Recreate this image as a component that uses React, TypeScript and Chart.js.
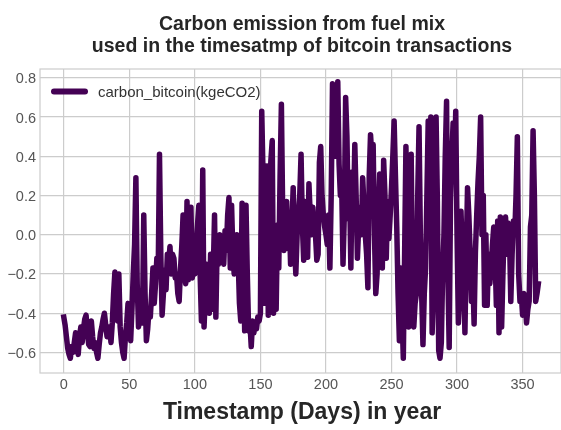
import React, { useEffect, useRef } from 'react';
import { Chart, registerables } from 'chart.js';

Chart.register(...registerables);

const TITLE_LINES = ['Carbon emission from fuel mix', 'used in the timesatmp of bitcoin transactions'];
const X_LABEL = 'Timestamp (Days) in year';
const SERIES_LABEL = 'carbon_bitcoin(kgeCO2)';
const X_TICKS = [0, 50, 100, 150, 200, 250, 300, 350];
const Y_TICKS = [-0.6, -0.4, -0.2, 0.0, 0.2, 0.4, 0.6, 0.8];

// carbon emission per day (day index = position)
const CARBON = [
  -0.42, -0.46, -0.52, -0.58, -0.61, -0.63, -0.57, -0.60, -0.55, -0.50,
  -0.58, -0.61, -0.52, -0.47, -0.55, -0.48, -0.43, -0.41, -0.50, -0.56,
  -0.57, -0.44, -0.52, -0.58, -0.55, -0.60, -0.63, -0.56, -0.50, -0.47,
  -0.43, -0.40, -0.46, -0.52, -0.48, -0.47, -0.55, -0.45, -0.30, -0.19,
  -0.38, -0.44, -0.20, -0.47, -0.55, -0.60, -0.63, -0.52, -0.45, -0.35,
  -0.43, -0.54, -0.38, -0.20, -0.05, 0.29, -0.25, -0.47, -0.42, -0.30,
  -0.45, 0.10, -0.30, -0.54, -0.48, -0.38, -0.42, -0.30, -0.17, -0.35,
  -0.25, -0.12, -0.20, 0.41, -0.10, -0.41, -0.30, -0.18, -0.28, -0.10,
  -0.15, -0.06, -0.20, -0.10, -0.12, -0.22, -0.20, -0.30, -0.34, -0.18,
  -0.06, 0.10, -0.20, -0.25, 0.17, -0.23, -0.10, 0.14, -0.22, -0.15,
  -0.20, -0.05, 0.05, 0.15, -0.20, -0.44, 0.33, -0.47, -0.30, -0.15,
  -0.23, -0.40, -0.10, -0.38, -0.20, 0.10, -0.42, -0.05, -0.15, 0.00,
  -0.12, -0.06, -0.15, 0.02, -0.08, 0.10, 0.19, -0.17, 0.15, -0.10,
  -0.20, -0.05, 0.00, -0.12, -0.35, -0.44, 0.16, -0.10, -0.49, 0.15,
  -0.20, -0.49, -0.45, -0.57, -0.44, -0.50, -0.45, -0.48, -0.42, -0.44,
  -0.40, 0.63, 0.30, -0.35, 0.05, 0.35, -0.41, 0.20, 0.38, 0.48,
  -0.40, -0.10, -0.38, 0.05, -0.17, 0.30, 0.665, 0.10, -0.08, 0.05,
  0.17, -0.07, 0.10, -0.15, 0.05, 0.24, -0.05, -0.20, 0.00, 0.10,
  0.20, 0.41, 0.05, -0.13, 0.17, 0.07, -0.115, 0.26, 0.10, 0.00,
  0.14, 0.05, 0.00, -0.13, -0.10, 0.37, 0.45, 0.20, 0.10, 0.04,
  0.00, -0.05, 0.10, -0.17, 0.20, 0.77, 0.75, 0.40, 0.60, 0.78,
  0.36, 0.20, 0.25, -0.15, 0.10, 0.70, 0.50, 0.08, 0.25, -0.17,
  0.32, 0.10, 0.46, 0.20, -0.12, 0.05, 0.14, 0.00, 0.29, 0.15,
  0.00, -0.10, -0.27, 0.30, 0.51, 0.40, 0.46, 0.00, -0.30, -0.20,
  0.10, 0.31, 0.29, -0.17, 0.38, 0.20, -0.12, 0.17, -0.02, 0.10,
  0.24, 0.40, 0.58, 0.30, 0.04, -0.30, -0.54, -0.17, -0.40, -0.63,
  -0.10, 0.45, 0.00, -0.47, 0.10, 0.41, -0.20, -0.47, -0.35, -0.30,
  0.20, 0.55, 0.00, -0.30, -0.56, -0.30, -0.17, 0.20, 0.58, 0.00,
  0.60, -0.50, -0.30, 0.30, 0.60, 0.17, -0.59, -0.63, -0.55, -0.20,
  0.00, 0.40, 0.68, -0.20, -0.575, 0.17, 0.40, 0.57, 0.30, 0.63,
  0.00, -0.45, -0.30, 0.12, -0.09, -0.20, -0.50, -0.10, 0.24, 0.10,
  -0.09, -0.34, -0.20, -0.455, -0.09, 0.10, 0.27, 0.40, 0.60, 0.00,
  0.20, -0.36, 0.00, -0.36, -0.10, -0.25, -0.17, -0.05, 0.04, -0.10,
  -0.36, 0.07, -0.50, 0.09, -0.47, -0.20, 0.05, 0.09, -0.10, 0.06,
  0.00, -0.34, -0.10, 0.07, 0.00, 0.20, 0.50, -0.20, -0.34, -0.30,
  -0.41, -0.30, -0.34, -0.45, -0.38, -0.34, 0.04, 0.10, 0.53, 0.20,
  -0.34, -0.30, -0.25,
];

const DAYS = CARBON.map((_, i) => i);

const LINE_COLOR = '#440154';
const GRID_COLOR = '#cccccc';
const FONT = '"Liberation Sans", Arial, sans-serif';

export default function App() {
  const ref = useRef<HTMLCanvasElement>(null);

  useEffect(() => {
    if (!ref.current) return;

    const overlay = {
      id: 'overlay',
      beforeDatasetsDraw(chart: any) {
        const { ctx, chartArea } = chart;
        ctx.save();
        ctx.strokeStyle = GRID_COLOR;
        ctx.lineWidth = 1.2;
        ctx.strokeRect(chartArea.left, chartArea.top, chartArea.right - chartArea.left, chartArea.bottom - chartArea.top);
        ctx.restore();
      },
      afterDraw(chart: any) {
        const { ctx, scales, chartArea } = chart;
        ctx.save();
        // y tick labels
        ctx.fillStyle = '#555555';
        ctx.font = `14.5px ${FONT}`;
        ctx.textAlign = 'right';
        ctx.textBaseline = 'middle';
        Y_TICKS.forEach((v) => {
          const y = scales.y.getPixelForValue(v);
          ctx.fillText(v.toFixed(1).replace('-', '\u2212'), 36, y + 1.5);
        });
        // x tick labels
        ctx.textAlign = 'center';
        X_TICKS.forEach((v) => {
          const x = scales.x.getPixelForValue(v);
          ctx.fillText(String(v), x, chartArea.bottom + 12);
        });
        // titles
        ctx.fillStyle = '#262626';
        ctx.textBaseline = 'alphabetic';
        ctx.font = `bold 19.5px ${FONT}`;
        ctx.fillText(TITLE_LINES[0], 302, 29.5);
        ctx.fillText(TITLE_LINES[1], 302, 52);
        ctx.font = `bold 23px ${FONT}`;
        ctx.fillText(X_LABEL, 302, 418.5);
        // legend
        ctx.strokeStyle = LINE_COLOR;
        ctx.lineWidth = 6;
        ctx.lineCap = 'round';
        ctx.beginPath();
        ctx.moveTo(54, 91.5);
        ctx.lineTo(85, 91.5);
        ctx.stroke();
        ctx.fillStyle = '#333333';
        ctx.font = `15px ${FONT}`;
        ctx.textAlign = 'left';
        ctx.textBaseline = 'middle';
        ctx.fillText(SERIES_LABEL, 98, 92.5);
        ctx.restore();
      },
    };

    const chart = new Chart(ref.current, {
      type: 'line',
      data: {
        datasets: [
          {
            label: SERIES_LABEL,
            data: DAYS.map((d, i) => ({ x: d, y: CARBON[i] })),
            borderColor: LINE_COLOR,
            backgroundColor: LINE_COLOR,
            borderWidth: 5.5,
            pointRadius: 0,
            tension: 0,
            borderJoinStyle: 'round',
            borderCapStyle: 'square',
            fill: false,
          },
        ],
      },
      options: {
        responsive: false,
        animation: false,
        devicePixelRatio: 1,
        layout: { padding: { top: 69, left: 0, right: 0, bottom: 0 } },
        plugins: {
          legend: { display: false },
          tooltip: { enabled: false },
          title: { display: false },
        },
        scales: {
          x: {
            type: 'linear',
            min: -18.15,
            max: 379.3,
            afterBuildTicks: (scale: any) => {
              scale.ticks = X_TICKS.map((v) => ({ value: v }));
            },
            afterFit: (scale: any) => {
              scale.height = 57;
            },
            ticks: { display: false },
            grid: { color: GRID_COLOR, lineWidth: 1.2, drawTicks: false },
            border: { display: false },
          },
          y: {
            type: 'linear',
            min: -0.705,
            max: 0.845,
            afterBuildTicks: (scale: any) => {
              scale.ticks = Y_TICKS.map((v) => ({ value: v }));
            },
            afterFit: (scale: any) => {
              scale.width = 40;
            },
            ticks: { display: false },
            grid: { color: GRID_COLOR, lineWidth: 1.2, drawTicks: false },
            border: { display: false },
          },
        },
      },
      plugins: [overlay],
    } as any);

    return () => chart.destroy();
  }, []);

  return (
    <div style={{ position: 'absolute', left: 0, top: 0, width: 561, height: 430, background: '#ffffff' }}>
      <canvas ref={ref} width={561} height={430} style={{ width: 561, height: 430 }} />
    </div>
  );
}
